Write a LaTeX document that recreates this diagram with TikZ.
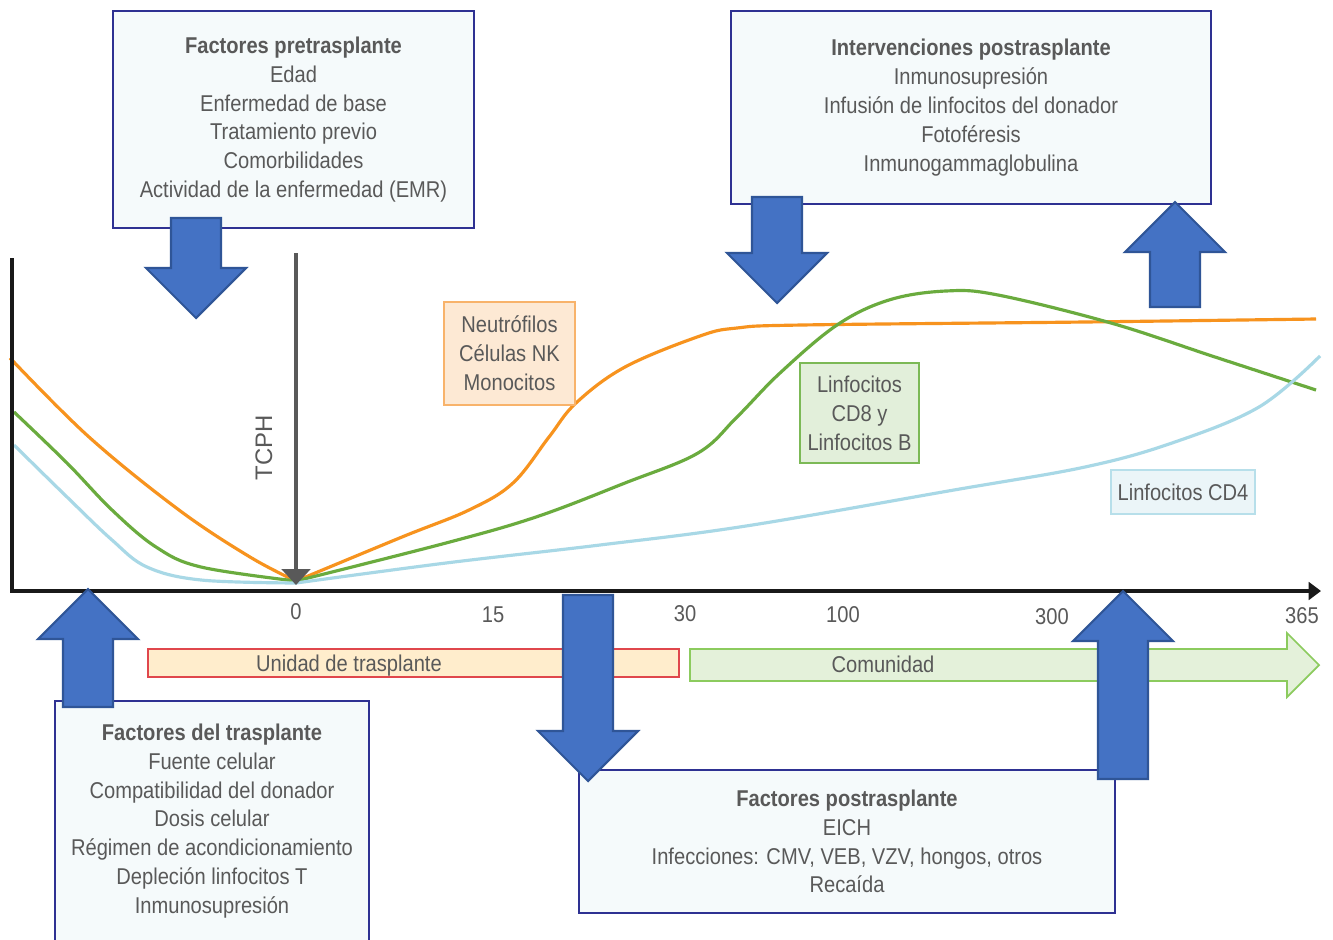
\documentclass[tikz,border=0pt]{standalone}
\usepackage{fontspec}
\setmainfont{Liberation Sans}
\newfontfamily\narrowfont[FakeStretch=0.88]{Liberation Sans}
\usetikzlibrary{arrows.meta,positioning}
\definecolor{boxline}{HTML}{2E3192}
\definecolor{boxfill}{HTML}{F5FAFB}
\definecolor{arrfill}{HTML}{4472C4}
\definecolor{arrline}{HTML}{2F5597}
\definecolor{txtgray}{HTML}{595959}
\definecolor{neuline}{HTML}{F7931E}
\definecolor{neufill}{HTML}{FDE9D4}
\definecolor{neuedge}{HTML}{F8B36B}
\definecolor{cdeline}{HTML}{6AAB3E}
\definecolor{cdefill}{HTML}{E2EFDA}
\definecolor{cdeedge}{HTML}{7CB956}
\definecolor{cdfline}{HTML}{A8D8E6}
\definecolor{cdffill}{HTML}{EBF5F8}
\definecolor{cdfedge}{HTML}{B7DFEA}
\definecolor{unifill}{HTML}{FFEDCC}
\definecolor{uniedge}{HTML}{E0474C}
\definecolor{comfill}{HTML}{E4F1DA}
\definecolor{comedge}{HTML}{8CCB5E}
\tikzset{
  basetext/.style={
    font=\narrowfont\fontsize{6.5}{8.2}\selectfont, text=txtgray
  },
  infobox/.style={
    rectangle, draw=boxline, fill=boxfill, line width=0.6pt,
    basetext, align=center, inner sep=0pt
  },
  cellbox/.style 2 args={
    rectangle, draw=#2, fill=#1, line width=0.5pt,
    basetext, align=center, inner sep=0pt
  },
  curve/.style={line width=0.9pt, color=#1},
  blockfill/.style={fill=arrfill, draw=arrline, line width=0.6pt},
  pics/blockarrow/.style={code={
    \draw[blockfill] (-25,0) -- (-25,#1) -- (-50,#1) -- (0,#1+50)
      -- (50,#1) -- (25,#1) -- (25,0) -- cycle;
  }},
}

\begin{document}
\begin{tikzpicture}[x=0.01cm, y=-0.01cm]
  \useasboundingbox[fill=white] (0,0) rectangle (1333,939);

  % Curves
  \coordinate (t0) at (296,581);
  \draw[curve=neuline] plot[smooth, tension=0.6] coordinates {
    (10,358) (89,437) (179,510) (250,557) (t0)};
  \draw[curve=neuline] plot[smooth, tension=0.6] coordinates {
    (t0) (402,537) (469,510) (513,483) (549,437) (576,403) (625,367)
    (700,336) (737,328) (802,325) (1085,322) (1316,319)};
  \draw[curve=cdeline] plot[smooth, tension=0.6] coordinates {
    (14,412) (67,463) (112,510) (156,547) (201,567) (t0)};
  \draw[curve=cdeline] plot[smooth, tension=0.6] coordinates {
    (t0) (446,543) (536,517) (625,483) (698,453) (737,417) (780,373)
    (837,325) (889,300) (946,291) (998,295) (1111,323) (1215,357) (1316,390)};
  \draw[curve=cdfline] plot[smooth, tension=0.6] coordinates {
    (14,445) (67,497) (112,540) (147,567) (201,580) (296,583)};
  \draw[curve=cdfline] plot[smooth, tension=0.6] coordinates {
    (296,583) (446,563) (600,545) (746,526) (954,490) (1085,467)
    (1172,443) (1259,407) (1320,356)};

  % TCPH arrow
  \coordinate (tcphtop) at (296,253);
  \coordinate (tcphtip) at (296,585);
  \draw[txtgray, line width=1.2pt, -{Triangle[length=4.5pt,width=8pt]}]
    (tcphtop) -- (tcphtip);
  \node[basetext, font=\fontsize{6.8}{8}\selectfont, rotate=90] (tcph) at (264,448) {TCPH};

  % Axes
  \coordinate (ytop) at (12,258);
  \coordinate (xend) at (1321,591);
  \draw[black!90, line width=0.9pt, -{Triangle[length=3.5pt,width=5pt]}]
    (ytop) |- (xend);

  % Cell labels
  \node[cellbox={neufill}{neuedge}, minimum width=1.31cm, minimum height=1.03cm]
    (neutro) at (509.5,353.5) {Neutrófilos\\Células NK\\Monocitos};
  \node[cellbox={cdefill}{cdeedge}, minimum width=1.19cm, minimum height=1.0cm]
    (cdeight) at (859.5,413) {Linfocitos\\CD8 y\\Linfocitos B};
  \node[cellbox={cdffill}{cdfedge}, minimum width=1.44cm, minimum height=0.44cm]
    (cdfour) at (1183,492) {Linfocitos CD4};

  % Ticks
  \node[basetext] (tk0) at (296,612) {0};
  \node[basetext] (tk15) at (493,615) {15};
  \node[basetext] (tk30) at (685,614) {30};
  \node[basetext] (tk100) at (843,615) {100};
  \node[basetext] (tk300) at (1052,617) {300};
  \node[basetext] (tk365) at (1302,616) {365};

  % Setting bars
  \node[cellbox={unifill}{uniedge}, minimum width=5.31cm, minimum height=0.28cm]
    (unibar) at (413.5,663) {};
  \node[basetext] (unidad) at (349,666) {Unidad de trasplante};
  \draw[fill=comfill, draw=comedge, line width=0.5pt]
    (690,649) -- (1287,649) -- (1287,633) -- (1319,665) -- (1287,697)
    -- (1287,681) -- (690,681) -- cycle;
  \node[basetext] (comunidad) at (883,664) {Comunidad};

  % Factor boxes
  \node[infobox, minimum width=3.61cm, minimum height=2.17cm] (pre) at (293.5,119.5)
    {\textbf{Factores pretrasplante}\\Edad\\Enfermedad de base\\Tratamiento previo\\
     Comorbilidades\\Actividad de la enfermedad (EMR)};
  \node[infobox, minimum width=4.80cm, minimum height=1.93cm] (inter) at (971,107.5)
    {\textbf{Intervenciones postrasplante}\\Inmunosupresión\\
     Infusión de linfocitos del donador\\Fotoféresis\\Inmunogammaglobulina};
  \node[infobox, minimum width=3.14cm, minimum height=2.40cm] (trasp) at (212,821)
    {\textbf{Factores del trasplante}\\Fuente celular\\Compatibilidad del donador\\
     Dosis celular\\Régimen de acondicionamiento\\Depleción linfocitos T\\Inmunosupresión};
  \node[infobox, minimum width=5.36cm, minimum height=1.43cm] (post) at (847,841.5)
    {\textbf{Factores postrasplante}\\EICH\\Infecciones: CMV, VEB, VZV, hongos, otros\\Recaída};

  % Block arrows
  \pic at (196,218) {blockarrow=50};
  \pic at (777,197) {blockarrow=56};
  \pic at (588,595) {blockarrow=136};
  \pic[rotate=180] at (1175,307) {blockarrow=55};
  \pic[rotate=180] at (88,707) {blockarrow=68};
  \pic[rotate=180] at (1123,779) {blockarrow=138};
\end{tikzpicture}
\end{document}
